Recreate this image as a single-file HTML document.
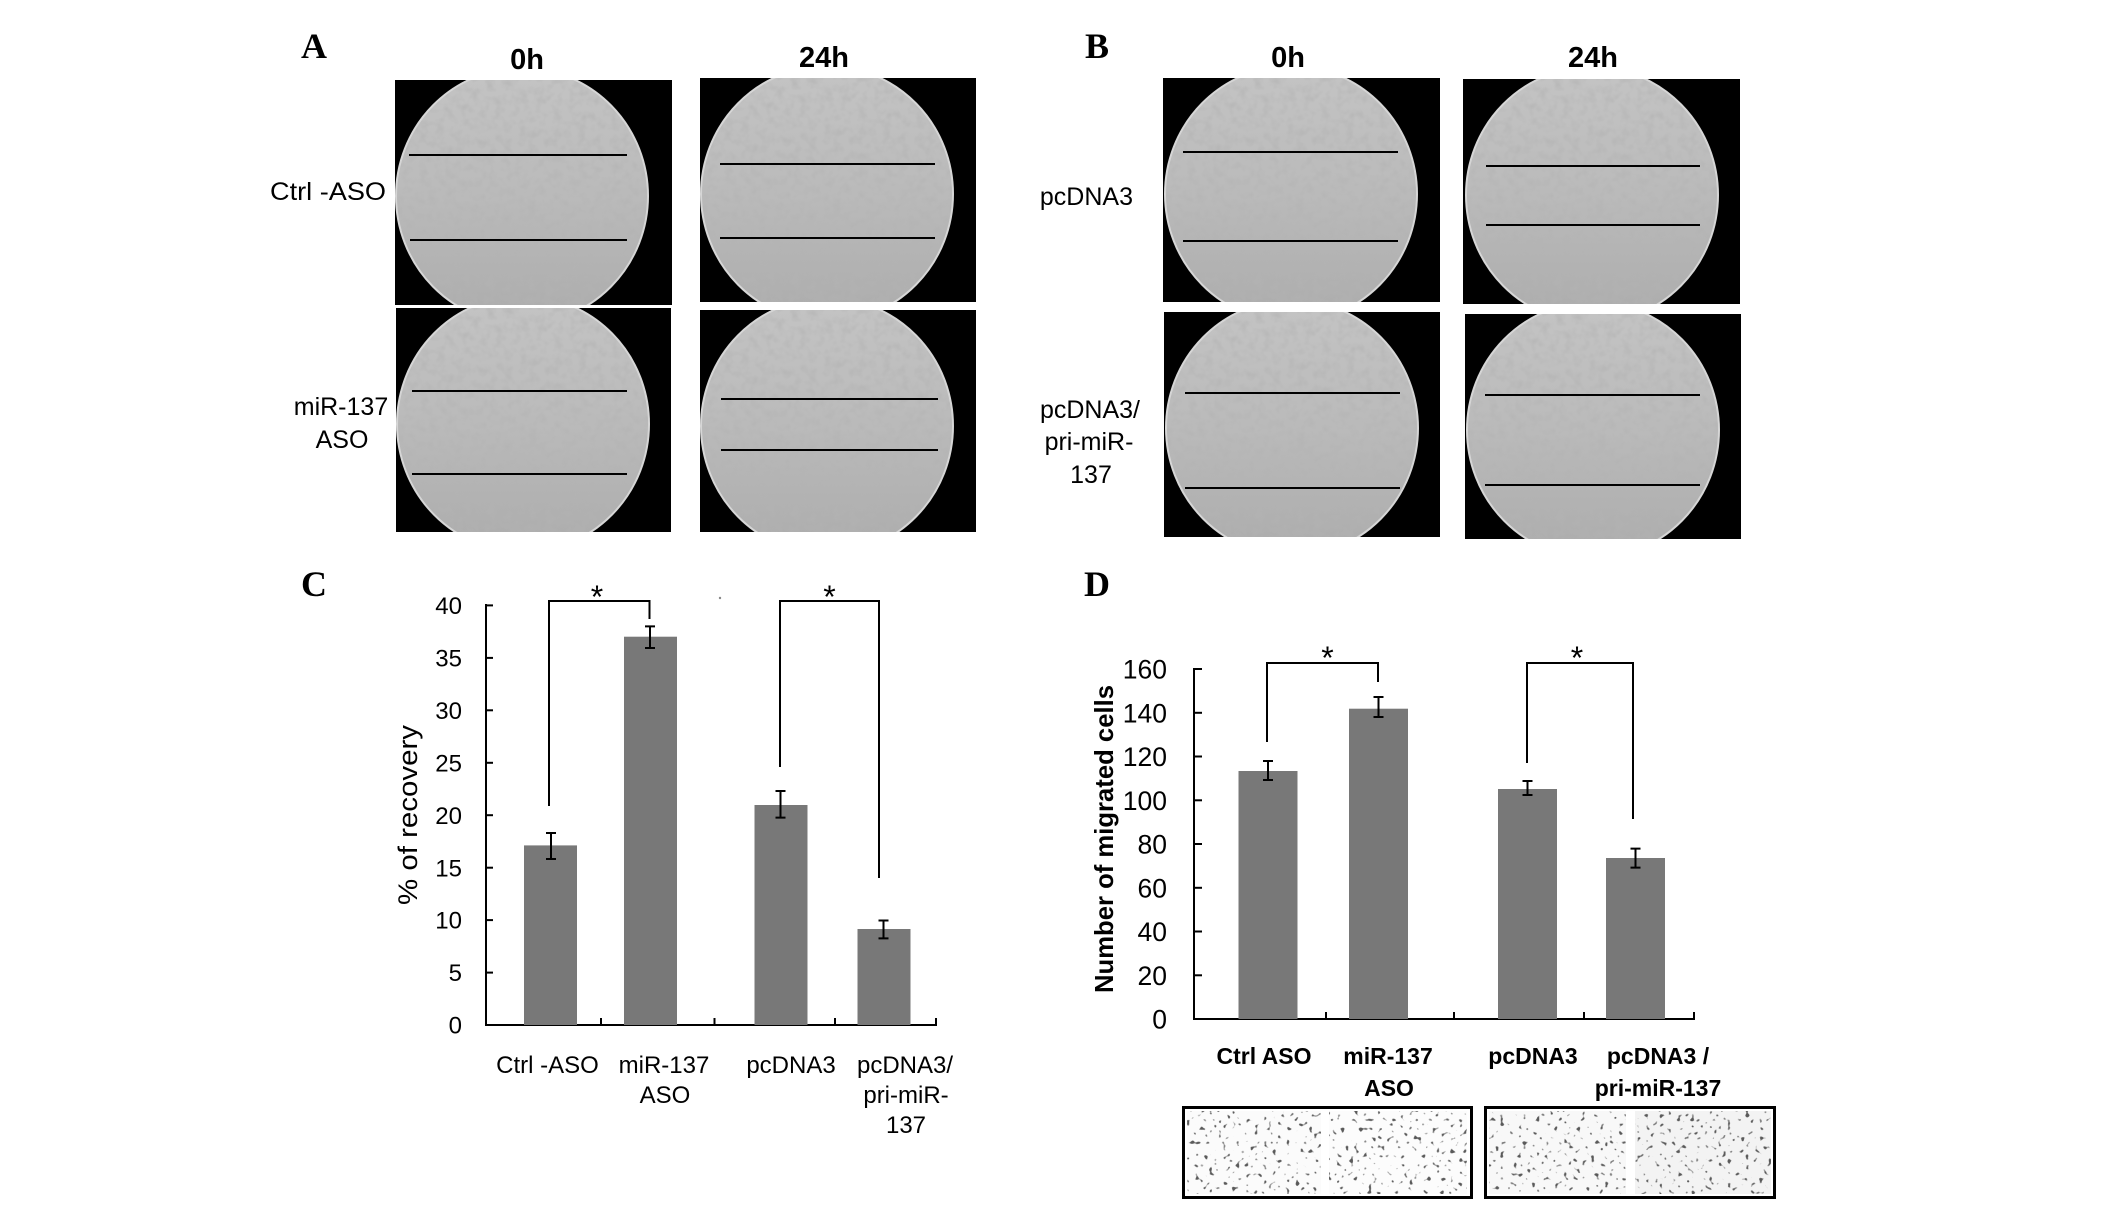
<!DOCTYPE html>
<html>
<head>
<meta charset="utf-8">
<style>
html,body{margin:0;padding:0;background:#fff;}
svg{display:block;}
text{font-family:"Liberation Sans",Arial,sans-serif;fill:#000;}
.serif{font-family:"Liberation Serif","Times New Roman",serif;font-weight:bold;}
</style>
</head>
<body>
<svg width="2126" height="1222" viewBox="0 0 2126 1222" xmlns="http://www.w3.org/2000/svg">
<defs>
  <linearGradient id="dish" x1="0" y1="0" x2="0" y2="1">
    <stop offset="0" stop-color="#c4c4c4"/>
    <stop offset="0.5" stop-color="#bababa"/>
    <stop offset="1" stop-color="#acacac"/>
  </linearGradient>
  <filter id="noise" x="0" y="0" width="100%" height="100%">
    <feTurbulence type="fractalNoise" baseFrequency="0.12" numOctaves="2" seed="5" result="t"/>
    <feColorMatrix in="t" type="matrix" values="0 0 0 0 0.45  0 0 0 0 0.45  0 0 0 0 0.45  -1.4 0 0 0 0.82"/>
    <feComposite in2="SourceGraphic" operator="in"/>
  </filter>
  <filter id="speck" x="0" y="0" width="100%" height="100%">
    <feTurbulence type="fractalNoise" baseFrequency="0.22" numOctaves="1" seed="7" result="t"/>
    <feColorMatrix in="t" type="matrix" values="0 0 0 0 0.1  0 0 0 0 0.1  0 0 0 0 0.1  11 0 0 0 -6.9"/>
    <feComposite in2="SourceGraphic" operator="in"/>
  </filter>
</defs>

<rect x="0" y="0" width="2126" height="1222" fill="#fff"/>

<!-- Panel letters -->
<text class="serif" x="301" y="58" font-size="36">A</text>
<text class="serif" x="1085" y="58" font-size="36">B</text>
<text class="serif" x="301" y="596" font-size="36">C</text>
<text class="serif" x="1084" y="596" font-size="36">D</text>

<!-- Column headers -->
<text x="527" y="69" font-size="29" font-weight="bold" text-anchor="middle">0h</text>
<text x="824" y="67" font-size="29" font-weight="bold" text-anchor="middle">24h</text>
<text x="1288" y="67" font-size="29" font-weight="bold" text-anchor="middle">0h</text>
<text x="1593" y="67" font-size="29" font-weight="bold" text-anchor="middle">24h</text>

<!-- Row labels A -->
<text x="386" y="200" font-size="25" text-anchor="end" textLength="116" lengthAdjust="spacingAndGlyphs">Ctrl -ASO</text>
<text x="341" y="415" font-size="25" text-anchor="middle">miR-137</text>
<text x="342" y="448" font-size="25" text-anchor="middle">ASO</text>
<!-- Row labels B -->
<text x="1133" y="205" font-size="25" text-anchor="end">pcDNA3</text>
<text x="1090" y="418" font-size="25" text-anchor="middle">pcDNA3/</text>
<text x="1089" y="450" font-size="25" text-anchor="middle">pri-miR-</text>
<text x="1091" y="483" font-size="25" text-anchor="middle">137</text>

<!-- Micrographs -->
<svg x="395" y="80" width="277" height="225">
  <rect width="277" height="225" fill="#000"/>
  <ellipse cx="127" cy="116" rx="126" ry="128" fill="url(#dish)" stroke="#d6d6d6" stroke-width="2"/>
  <ellipse cx="127" cy="116" rx="125" ry="127" fill="#000" filter="url(#noise)"/>
  <line x1="14" y1="75" x2="232" y2="75" stroke="#000" stroke-width="2"/>
  <line x1="15" y1="160" x2="232" y2="160" stroke="#000" stroke-width="2"/>
</svg>
<svg x="700" y="78" width="276" height="224">
  <rect width="276" height="224" fill="#000"/>
  <ellipse cx="127" cy="116" rx="126" ry="128" fill="url(#dish)" stroke="#d6d6d6" stroke-width="2"/>
  <ellipse cx="127" cy="116" rx="125" ry="127" fill="#000" filter="url(#noise)"/>
  <line x1="20" y1="86" x2="235" y2="86" stroke="#000" stroke-width="2"/>
  <line x1="20" y1="160" x2="235" y2="160" stroke="#000" stroke-width="2"/>
</svg>
<svg x="396" y="308" width="275" height="224">
  <rect width="275" height="224" fill="#000"/>
  <ellipse cx="127" cy="116" rx="126" ry="128" fill="url(#dish)" stroke="#d6d6d6" stroke-width="2"/>
  <ellipse cx="127" cy="116" rx="125" ry="127" fill="#000" filter="url(#noise)"/>
  <line x1="16" y1="83" x2="231" y2="83" stroke="#000" stroke-width="2"/>
  <line x1="16" y1="166" x2="231" y2="166" stroke="#000" stroke-width="2"/>
</svg>
<svg x="700" y="310" width="276" height="222">
  <rect width="276" height="222" fill="#000"/>
  <ellipse cx="127" cy="116" rx="126" ry="128" fill="url(#dish)" stroke="#d6d6d6" stroke-width="2"/>
  <ellipse cx="127" cy="116" rx="125" ry="127" fill="#000" filter="url(#noise)"/>
  <line x1="21" y1="89" x2="238" y2="89" stroke="#000" stroke-width="2"/>
  <line x1="21" y1="140" x2="238" y2="140" stroke="#000" stroke-width="2"/>
</svg>
<svg x="1163" y="78" width="277" height="224">
  <rect width="277" height="224" fill="#000"/>
  <ellipse cx="128" cy="116" rx="126" ry="128" fill="url(#dish)" stroke="#d6d6d6" stroke-width="2"/>
  <ellipse cx="128" cy="116" rx="125" ry="127" fill="#000" filter="url(#noise)"/>
  <line x1="20" y1="74" x2="235" y2="74" stroke="#000" stroke-width="2"/>
  <line x1="20" y1="163" x2="235" y2="163" stroke="#000" stroke-width="2"/>
</svg>
<svg x="1463" y="79" width="277" height="225">
  <rect width="277" height="225" fill="#000"/>
  <ellipse cx="129" cy="116" rx="126" ry="128" fill="url(#dish)" stroke="#d6d6d6" stroke-width="2"/>
  <ellipse cx="129" cy="116" rx="125" ry="127" fill="#000" filter="url(#noise)"/>
  <line x1="23" y1="87" x2="237" y2="87" stroke="#000" stroke-width="2"/>
  <line x1="23" y1="146" x2="237" y2="146" stroke="#000" stroke-width="2"/>
</svg>
<svg x="1164" y="312" width="276" height="225">
  <rect width="276" height="225" fill="#000"/>
  <ellipse cx="128" cy="116" rx="126" ry="128" fill="url(#dish)" stroke="#d6d6d6" stroke-width="2"/>
  <ellipse cx="128" cy="116" rx="125" ry="127" fill="#000" filter="url(#noise)"/>
  <line x1="21" y1="81" x2="236" y2="81" stroke="#000" stroke-width="2"/>
  <line x1="21" y1="176" x2="236" y2="176" stroke="#000" stroke-width="2"/>
</svg>
<svg x="1465" y="314" width="276" height="225">
  <rect width="276" height="225" fill="#000"/>
  <ellipse cx="128" cy="116" rx="126" ry="128" fill="url(#dish)" stroke="#d6d6d6" stroke-width="2"/>
  <ellipse cx="128" cy="116" rx="125" ry="127" fill="#000" filter="url(#noise)"/>
  <line x1="20" y1="81" x2="235" y2="81" stroke="#000" stroke-width="2"/>
  <line x1="20" y1="171" x2="235" y2="171" stroke="#000" stroke-width="2"/>
</svg>

<!-- ================= Chart C ================= -->
<g stroke="#000" stroke-width="2" fill="none">
  <line x1="486" y1="604" x2="486" y2="1026"/>
  <line x1="485" y1="1025" x2="937" y2="1025"/>
  <line x1="486" y1="605.4" x2="493" y2="605.4"/>
  <line x1="486" y1="657.9" x2="493" y2="657.9"/>
  <line x1="486" y1="710.3" x2="493" y2="710.3"/>
  <line x1="486" y1="762.8" x2="493" y2="762.8"/>
  <line x1="486" y1="815.2" x2="493" y2="815.2"/>
  <line x1="486" y1="867.7" x2="493" y2="867.7"/>
  <line x1="486" y1="920.1" x2="493" y2="920.1"/>
  <line x1="486" y1="972.6" x2="493" y2="972.6"/>
  <line x1="601" y1="1025" x2="601" y2="1018"/>
  <line x1="714.5" y1="1025" x2="714.5" y2="1018"/>
  <line x1="835" y1="1025" x2="835" y2="1018"/>
  <line x1="936" y1="1025" x2="936" y2="1018"/>
</g>
<g fill="#787878">
  <rect x="524" y="845.4" width="53" height="179.6"/>
  <rect x="624" y="636.7" width="53" height="388.3"/>
  <rect x="754.5" y="805" width="53" height="220"/>
  <rect x="857.5" y="929" width="53" height="96"/>
</g>
<g stroke="#000" stroke-width="2" fill="none">
  <path d="M551 833V859M546 833H556M546 859H556"/>
  <path d="M650 626.4V648M645 626.4H655M645 648H655"/>
  <path d="M780.5 791V817.6M775.5 791H785.5M775.5 817.6H785.5"/>
  <path d="M883.5 920.5V938.4M878.5 920.5H888.5M878.5 938.4H888.5"/>
  <path d="M549 806V601H649.5V619"/>
  <path d="M780 767V601H879V878"/>
</g>
<text x="597" y="608" font-size="32" text-anchor="middle">*</text>
<text x="829.5" y="608" font-size="32" text-anchor="middle">*</text>
<circle cx="720" cy="598" r="1.2" fill="#888"/>
<g font-size="24" text-anchor="end">
  <text x="462" y="614">40</text>
  <text x="462" y="666.5">35</text>
  <text x="462" y="718.9">30</text>
  <text x="462" y="771.4">25</text>
  <text x="462" y="823.8">20</text>
  <text x="462" y="876.3">15</text>
  <text x="462" y="928.7">10</text>
  <text x="462" y="981.2">5</text>
  <text x="462" y="1033.6">0</text>
</g>
<text transform="translate(417,815) rotate(-90)" font-size="27" text-anchor="middle" textLength="180" lengthAdjust="spacingAndGlyphs">% of recovery</text>
<g font-size="24" text-anchor="middle">
  <text x="547.5" y="1073">Ctrl -ASO</text>
  <text x="664" y="1073">miR-137</text>
  <text x="665" y="1103">ASO</text>
  <text x="791" y="1073">pcDNA3</text>
  <text x="905" y="1073">pcDNA3/</text>
  <text x="906" y="1103">pri-miR-</text>
  <text x="906" y="1133">137</text>
</g>

<!-- ================= Chart D ================= -->
<g stroke="#000" stroke-width="2" fill="none">
  <line x1="1194" y1="668" x2="1194" y2="1020"/>
  <line x1="1193" y1="1019" x2="1695" y2="1019"/>
  <line x1="1194" y1="669" x2="1202" y2="669"/>
  <line x1="1194" y1="712.8" x2="1202" y2="712.8"/>
  <line x1="1194" y1="756.5" x2="1202" y2="756.5"/>
  <line x1="1194" y1="800.3" x2="1202" y2="800.3"/>
  <line x1="1194" y1="844" x2="1202" y2="844"/>
  <line x1="1194" y1="887.8" x2="1202" y2="887.8"/>
  <line x1="1194" y1="931.5" x2="1202" y2="931.5"/>
  <line x1="1194" y1="975.3" x2="1202" y2="975.3"/>
  <line x1="1326" y1="1019" x2="1326" y2="1012"/>
  <line x1="1454" y1="1019" x2="1454" y2="1012"/>
  <line x1="1584" y1="1019" x2="1584" y2="1012"/>
  <line x1="1694" y1="1019" x2="1694" y2="1012"/>
</g>
<g fill="#787878">
  <rect x="1238.5" y="771" width="59" height="248"/>
  <rect x="1349" y="708.7" width="59" height="310.3"/>
  <rect x="1498" y="789" width="59" height="230"/>
  <rect x="1606" y="858" width="59" height="161"/>
</g>
<g stroke="#000" stroke-width="2" fill="none">
  <path d="M1268 761V780M1263 761H1273M1263 780H1273"/>
  <path d="M1378.5 697V717M1373.5 697H1383.5M1373.5 717H1383.5"/>
  <path d="M1527.5 781V795M1522.5 781H1532.5M1522.5 795H1532.5"/>
  <path d="M1635.5 848.6V867.6M1630.5 848.6H1640.5M1630.5 867.6H1640.5"/>
  <path d="M1267 742V663H1378V682"/>
  <path d="M1527 763V663H1633V819"/>
</g>
<text x="1327.5" y="669" font-size="32" text-anchor="middle">*</text>
<text x="1577" y="669" font-size="32" text-anchor="middle">*</text>
<g font-size="26.5" text-anchor="end">
  <text x="1167" y="678.5">160</text>
  <text x="1167" y="722.3">140</text>
  <text x="1167" y="766">120</text>
  <text x="1167" y="809.8">100</text>
  <text x="1167" y="853.5">80</text>
  <text x="1167" y="897.3">60</text>
  <text x="1167" y="941">40</text>
  <text x="1167" y="984.8">20</text>
  <text x="1167" y="1028.5">0</text>
</g>
<text transform="translate(1113,839) rotate(-90)" font-size="26" font-weight="bold" text-anchor="middle" textLength="308" lengthAdjust="spacingAndGlyphs">Number of migrated cells</text>
<g font-size="23" font-weight="bold" text-anchor="middle">
  <text x="1264" y="1064">Ctrl ASO</text>
  <text x="1388" y="1064">miR-137</text>
  <text x="1389" y="1096">ASO</text>
  <text x="1533" y="1064">pcDNA3</text>
  <text x="1658" y="1064">pcDNA3 /</text>
  <text x="1658" y="1096">pri-miR-137</text>
</g>

<!-- Transwell images -->
<rect x="1183.5" y="1107.5" width="288" height="90" fill="#fff" stroke="#000" stroke-width="3"/>
<rect x="1187" y="1111" width="134" height="83" fill="#fbfbfb"/>
<rect x="1187" y="1111" width="134" height="83" fill="#000" filter="url(#speck)"/>
<rect x="1329" y="1111" width="138" height="83" fill="#fcfcfc"/>
<rect x="1329" y="1111" width="138" height="83" fill="#000" filter="url(#speck)"/>
<rect x="1485.5" y="1107.5" width="289" height="90" fill="#fff" stroke="#000" stroke-width="3"/>
<rect x="1489" y="1111" width="137" height="83" fill="#f8f8f8"/>
<rect x="1489" y="1111" width="137" height="83" fill="#000" filter="url(#speck)"/>
<rect x="1635" y="1111" width="136" height="83" fill="#f3f3f3"/>
<rect x="1635" y="1111" width="136" height="83" fill="#000" filter="url(#speck)"/>
</svg>
</body>
</html>
